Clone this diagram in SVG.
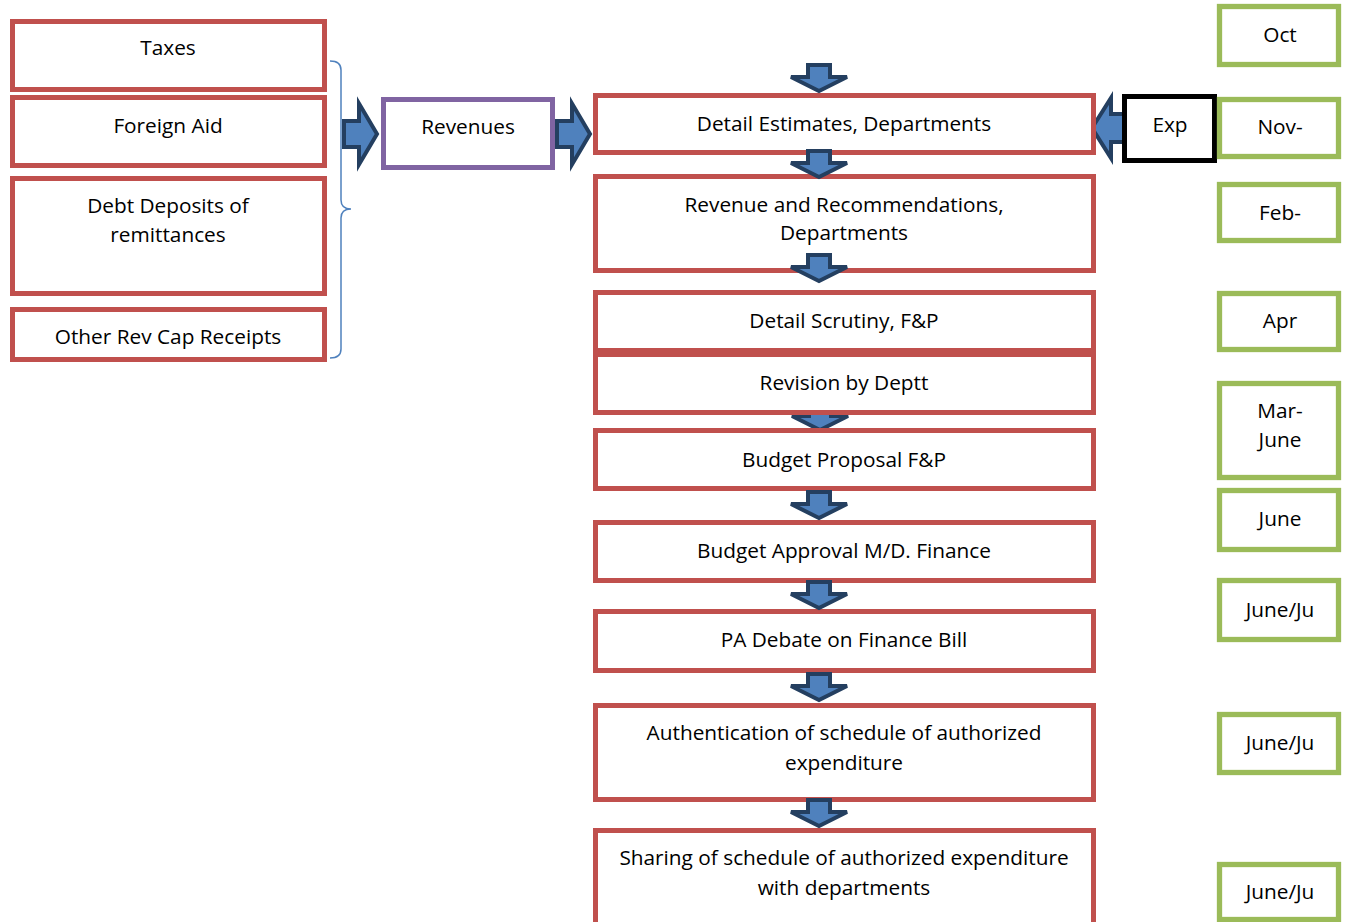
<svg xmlns="http://www.w3.org/2000/svg" width="1346" height="922" viewBox="0 0 1346 922">
<defs>
<style>
.r{fill:#fff;stroke:#C0504D;stroke-width:5}
.p{fill:#fff;stroke:#8064A2;stroke-width:5}
.g{fill:#fff;stroke:#9BBB59;stroke-width:5.3}
.k{fill:#fff;stroke:#000;stroke-width:5}
.a{fill:#4F81BD;stroke:#243F60;stroke-width:4;stroke-linejoin:miter}
text{font-family:"Open Sans","Liberation Sans",sans-serif;font-size:20.8px;fill:#000;text-anchor:middle}
</style>
<path id="dn" d="M-11,2 H11 V14 H28 L0,28 L-28,14 H-11 Z"/>
<path id="rt" d="M2,-13 H17 V-30.5 L35,0 L17,30.5 V13 H2 Z"/>
</defs>
<g id="connectors">
<path d="M330,61 Q341,61 341,70 V200 Q341,209 351,209 Q341,209 341,218 V349 Q341,358 330,358" fill="none" stroke="#4F81BD" stroke-width="1.5"/>
<use href="#rt" class="a" transform="translate(342,134)"/>
<use href="#rt" class="a" transform="translate(555,134)"/>
<path class="a" d="M1092,128 L1111,98 V114 H1126 V142 H1111 V158 Z"/>
<use href="#dn" class="a" transform="translate(820,402)"/>
</g>
<g id="taxes"><rect class="r" x="12.5" y="21.5" width="312" height="68"/><text x="168" y="55">Taxes</text></g>
<g id="foreign-aid"><rect class="r" x="12.5" y="97.5" width="312" height="68"/><text x="168" y="133">Foreign Aid</text></g>
<g id="debt"><rect class="r" x="12.5" y="178.5" width="312" height="115"/><text x="168" y="213">Debt Deposits of</text><text x="168" y="242">remittances</text></g>
<g id="other-rev"><rect class="r" x="12.5" y="309.5" width="312" height="50"/><text x="168" y="344">Other Rev Cap Receipts</text></g>
<g id="revenues"><rect class="p" x="383.5" y="99.5" width="169" height="68"/><text x="468" y="134">Revenues</text></g>
<g id="detail-estimates"><rect class="r" x="595.5" y="95.5" width="498" height="57"/><text x="844" y="131">Detail Estimates, Departments</text></g>
<g id="revenue-rec"><rect class="r" x="595.5" y="176.5" width="498" height="94"/><text x="844" y="212">Revenue and Recommendations,</text><text x="844" y="240">Departments</text></g>
<g id="detail-scrutiny"><rect class="r" x="595.5" y="292.5" width="498" height="58"/><text x="844" y="328">Detail Scrutiny, F&amp;P</text></g>
<g id="revision"><rect class="r" x="595.5" y="354.5" width="498" height="58"/><text x="844" y="390">Revision by Deptt</text></g>
<g id="budget-proposal"><rect class="r" x="595.5" y="430.5" width="498" height="58"/><text x="844" y="467">Budget Proposal F&amp;P</text></g>
<g id="budget-approval"><rect class="r" x="595.5" y="522.5" width="498" height="58"/><text x="844" y="558">Budget Approval M/D. Finance</text></g>
<g id="pa-debate"><rect class="r" x="595.5" y="611.5" width="498" height="59"/><text x="844" y="647">PA Debate on Finance Bill</text></g>
<g id="authentication"><rect class="r" x="595.5" y="705.5" width="498" height="94"/><text x="844" y="740">Authentication of schedule of authorized</text><text x="844" y="770">expenditure</text></g>
<g id="sharing"><rect class="r" x="595.5" y="830.5" width="498" height="120"/><text x="844" y="865">Sharing of schedule of authorized expenditure</text><text x="844" y="895">with departments</text></g>
<g id="exp"><rect class="k" x="1124.5" y="96.5" width="90" height="64"/><text x="1170" y="132">Exp</text></g>
<g id="oct"><rect class="g" x="1219.5" y="6.5" width="119" height="58"/><text x="1280" y="42">Oct</text></g>
<g id="nov"><rect class="g" x="1219.5" y="99.5" width="119" height="57"/><text x="1280" y="134">Nov-</text></g>
<g id="feb"><rect class="g" x="1219.5" y="184.5" width="119" height="56"/><text x="1280" y="220">Feb-</text></g>
<g id="apr"><rect class="g" x="1219.5" y="293.5" width="119" height="56"/><text x="1280" y="328">Apr</text></g>
<g id="mar-june"><rect class="g" x="1219.5" y="383.5" width="119" height="94"/><text x="1280" y="418">Mar-</text><text x="1280" y="447">June</text></g>
<g id="june"><rect class="g" x="1219.5" y="490.5" width="119" height="59"/><text x="1280" y="526">June</text></g>
<g id="june-ju-1"><rect class="g" x="1219.5" y="580.5" width="119" height="59"/><text x="1280" y="617">June/Ju</text></g>
<g id="june-ju-2"><rect class="g" x="1219.5" y="714.5" width="119" height="58"/><text x="1280" y="750">June/Ju</text></g>
<g id="june-ju-3"><rect class="g" x="1219.5" y="864.5" width="119" height="55"/><text x="1280" y="899">June/Ju</text></g>
<g id="down-arrows">
<use href="#dn" class="a" transform="translate(819,63)"/>
<use href="#dn" class="a" transform="translate(819,149)"/>
<use href="#dn" class="a" transform="translate(819,253)"/>
<use href="#dn" class="a" transform="translate(819,490)"/>
<use href="#dn" class="a" transform="translate(819,580)"/>
<use href="#dn" class="a" transform="translate(819,672)"/>
<use href="#dn" class="a" transform="translate(819,798)"/>
</g>
</svg>
